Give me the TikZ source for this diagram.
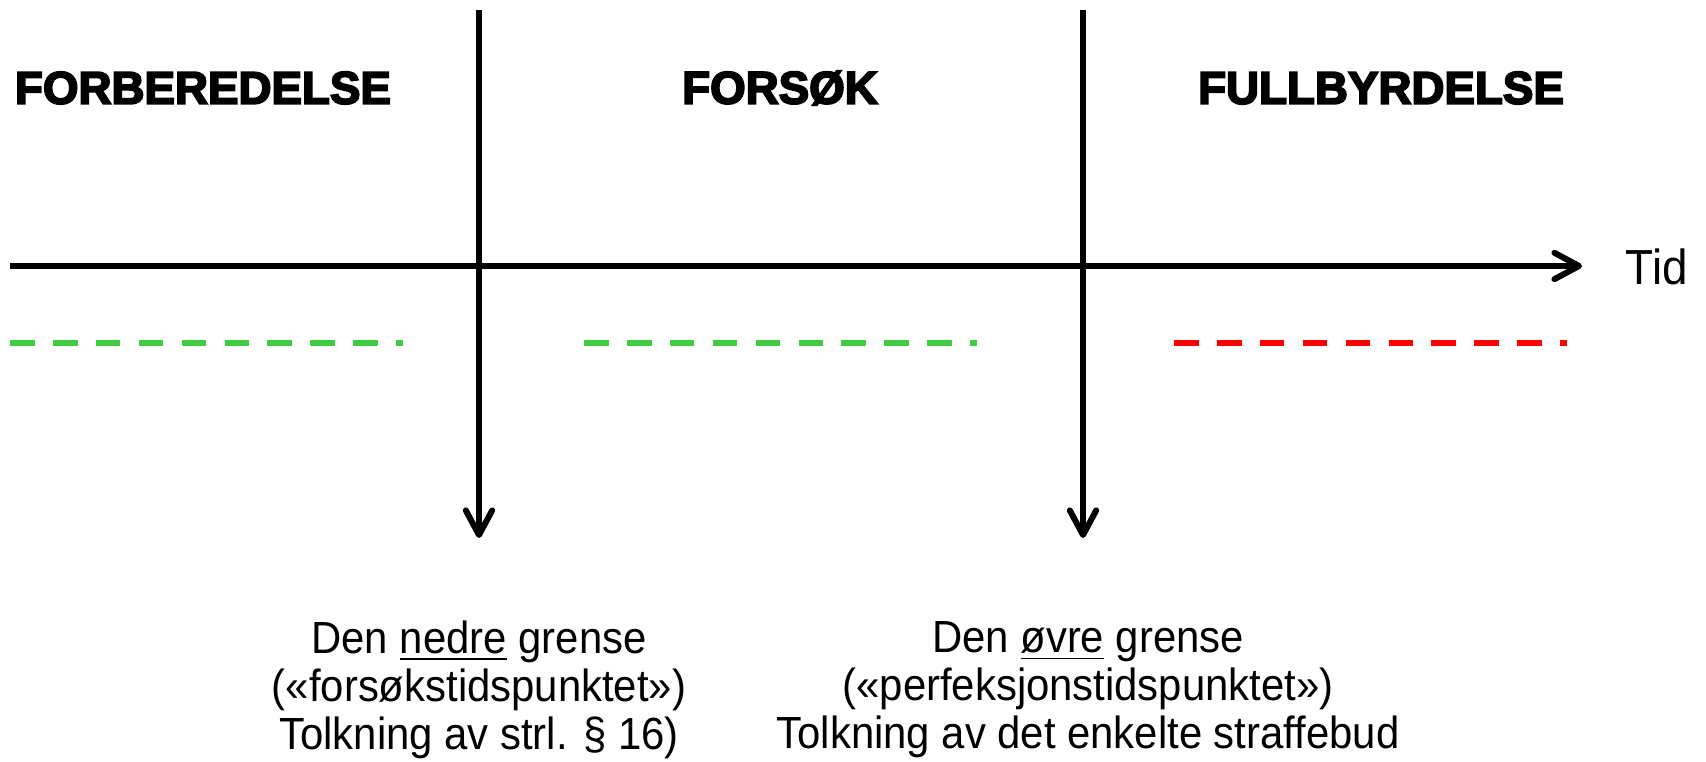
\documentclass[tikz,border=0pt]{standalone}
\usepackage{fontspec}
\setmainfont{Liberation Sans}[FakeStretch=0.93]
\newfontfamily\headfont{Liberation Sans}[BoldFeatures={FakeBold=4,FakeStretch=1.0}]
\usetikzlibrary{arrows.meta}
\definecolor{okgreen}{RGB}{64,204,64}
\definecolor{badred}{RGB}{255,0,0}
\begin{document}
\begin{tikzpicture}[x=0.01cm,y=-0.01cm,
    >={Straight Barb[length=7pt,width=7.5pt,line join=round,line cap=round]},
    thick line/.style={line width=1.7pt},
    phase/.style={inner sep=0pt,font=\headfont\bfseries\fontsize{13}{15}\selectfont},
    limit/.style={inner sep=0pt,align=center,font=\fontsize{12.8}{13.7}\selectfont},
    zone/.style={line width=1.7pt,dash pattern=on 7pt off 5.2pt}]
    \useasboundingbox(0,0)rectangle(1706,762);
    % faser
    \node[phase](prep)at(203,88){FORBEREDELSE};
    \node[phase](attempt)at(780,88){FORSØK};
    \node[phase](done)at(1381,88){FULLBYRDELSE};
    % tidslinje
    \coordinate(t0)at(10,266);\coordinate(t1)at(1582,266);
    \draw[thick line,->](t0)--(t1);
    \node[inner sep=0pt,anchor=west,font=\fontsize{14}{16}\selectfont](tid)at(1625,267){Tid};
    % grensene
    \coordinate(low top)at(479,10);\coordinate(low tip)at(479,538);
    \coordinate(up top)at(1083,10);\coordinate(up tip)at(1083,538);
    \draw[thick line,->](low top)--(low tip);
    \draw[thick line,->](up top)--(up tip);
    \node[limit](lower)at(479,690){Den \underline{nedre} grense\\(«forsøkstidspunktet»)\\Tolkning av strl. § 16)};
    \node[limit](upper)at(1088,690){Den \underline{øvre} grense\\(«perfeksjonstidspunktet»)\\Tolkning av det enkelte straffebud};
    % straffbart eller ikke
    \coordinate(a0)at(10,343);\coordinate(a1)at(403,343);
    \coordinate(b0)at(584,343);\coordinate(b1)at(977,343);
    \coordinate(c0)at(1174,343);\coordinate(c1)at(1567,343);
    \draw[zone,okgreen](a0)--(a1);
    \draw[zone,okgreen](b0)--(b1);
    \draw[zone,badred](c0)--(c1);
\end{tikzpicture}
\end{document}
